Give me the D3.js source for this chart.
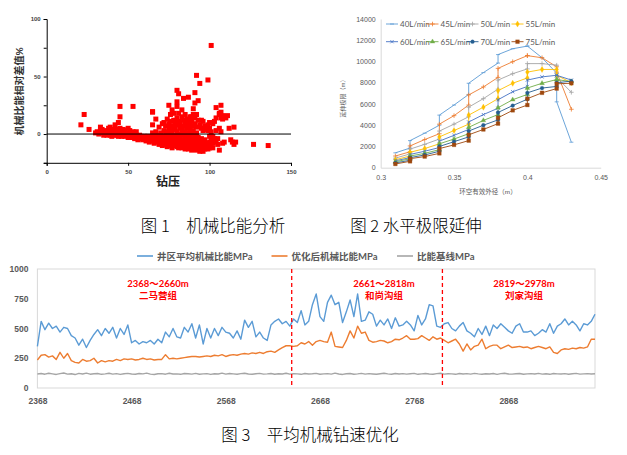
<!DOCTYPE html>
<html>
<head>
<meta charset="utf-8">
<script src="https://cdn.jsdelivr.net/npm/d3@7"></script>
<style>
  body { margin: 0; background: #fff; }
  svg { display: block; font-family: Lato, "Noto Sans CJK SC", sans-serif; }
</style>
</head>
<body>
<svg id="chart" width="627" height="455"></svg>
<script>
// ---- Fig 1: scatter (weight on bit vs. relative MSE) ----
const scatterPts = [
  [101,77],[92,51],[94,44],[99,47],[80,38],[81,35],[84,31],[87,32],[91,36],[93,29],[91,27],[80,28],
  [75,25],[80,24],[77,21],[83,21],[90,22],[45,24],[53,24],[65,19.5],[23,17],[21,8],[26,4],[45,15],
  [104,23],[107,25],[89,15],[92,17],
  [30,1],[31,2],[32,0],[33,3],[34,1],[35,-1],[35,2],[36,0],[37,1],[37,-1],[38,2],[38,0],[39,-1],[39,1],
  [40,0],[40,-2],[41,1],[41,-1],[42,0],[42,2],[43,-1],[43,1],[44,-2],[44,0],[45,-1],[45,2],[46,0],[46,-2],
  [47,1],[47,-1],[48,-2],[48,0],[49,-1],[49,1],[50,-3],[50,0],[51,-1],[51,-2],[52,0],[52,-3],[53,-1],[53,1],
  [54,-2],[54,-4],[55,-1],[55,-3],[56,-5],[56,-2],[57,-3],[57,-1],[58,-4],[58,-2],[59,-5],[59,-3],[60,-2],
  [60,-4],[61,-6],[61,-3],[62,-5],[62,-2],[63,-4],[63,-7],[64,-3],[64,-5],
  [33,6],[34,4],[36,3],[38,5],[39,6],[42,8],[43,4],[44,10],[45,5],[46,3],[47,4],[48,3],[50,5],[51,3],
  [53,2],[55,2],[40,3],[41,4],
  [65,-6],[65,-2],[65,1],[66,-4],[66,-8],[66,0],[67,-5],[67,-3],[67,2],[68,-7],[68,-4],[68,-1],[69,-6],
  [69,-9],[69,-2],[70,-5],[70,-8],[70,-3],[70,1],[71,-7],[71,-4],[71,-10],[72,-6],[72,-2],[72,3],[73,-9],
  [73,-5],[73,-1],[74,-7],[74,-11],[74,-3],[74,2],[75,-8],[75,-5],[75,0],[75,5],[76,-10],[76,-6],[76,-2],
  [76,3],[77,-9],[77,-4],[77,-12],[77,1],[78,-7],[78,-3],[78,-10],[78,6],[79,-8],[79,-5],[79,-1],[79,4],
  [80,-11],[80,-6],[80,-3],[80,2],[81,-9],[81,-12],[81,-4],[81,0],[82,-7],[82,-10],[82,-2],[82,5],[83,-8],
  [83,-12],[83,-5],[83,3],[84,-11],[84,-6],[84,-1],[84,7],[85,-9],[85,-13],[85,-4],[85,2],[86,-7],[86,-11],
  [86,-2],[86,5],[87,-10],[87,-13],[87,-5],[87,1],[88,-8],[88,-12],[88,-3],[88,4],[89,-11],[89,-6],[89,-14],
  [89,0],[90,-9],[90,-13],[90,-4],[90,3],[91,-12],[91,-7],[91,-2],[92,-10],[92,-14],[92,-5],[92,1],[93,-13],
  [93,-8],[93,-3],[94,-11],[94,-15],[94,-6],[95,-14],[95,-9],[95,-4],[96,-12],[96,-15],[96,-7],[97,-10],
  [97,-13],[97,-5],[98,-11],[98,-8],[99,-13],[99,-9],[100,-12],[100,-7],[101,-10],[102,-12],[102,-8],[103,-6],
  [65,8],[65,19],[67,13],[69,6],[71,9],[72,10],[73,7],[74,13],[75,9],[76,17],[76,11],[77,7],[78,18],[78,12],
  [79,10],[80,8],[80,14],[81,18],[81,11],[82,9],[83,15],[83,6],[84,12],[85,9],[85,17],[86,6],[86,13],[87,10],
  [88,8],[88,15],[89,11],[89,13],[90,7],[90,17],[91,9],[91,14],[92,6],[93,12],[94,8],[95,12],[95,5],
  [96,11],[96,3],[97,7],[98,4],[99,8],[99,3],[100,5],[100,10],[101,2],[102,9],[103,11],[104,14],[104,3],
  [106,5],[106,17],[107,14],[107,19],[108,16],[108,13],[110,14],[111,16],[112,5],[115,6],[106,18],[107,2],
  [104,-7],[105,-9],[106,-14],[108,-8],[109,-7],[113,-5],[114,-7],[115,-9],[116,-7],[127,-9],[136,-10],
  [103,-4],[101,-3],[100,-2],[105,-4],[102,-2]
];
const scatterXTicks = [0, 50, 100, 150];
const scatterYTicks = [-25, 0, 25, 50, 75, 100];

// ---- Fig 2: horizontal extension limit ----
const annulusOD = [0.31, 0.32, 0.32, 0.33, 0.34, 0.34, 0.35, 0.36, 0.36, 0.37, 0.38, 0.38, 0.39, 0.40, 0.40, 0.41, 0.42, 0.42, 0.43];
const flowLabels = ["40L/min", "45L/min", "50L/min", "55L/min", "60L/min", "65L/min", "70L/min", "75L/min"];
const ext40 = [1400, 1850, 2550, 3250, 4000, 4950, 5900, 6900, 7950, 8950, 9850, 10650, 11200, 11450, 11450, 10350, 8900, 6200, 2400];
const ext45 = [1100, 1500, 2050, 2650, 3200, 4100, 4900, 5900, 6850, 7600, 8500, 9350, 9980, 10550, 10550, 10350, 9500, 9000, 5500];
const ext50 = [900, 1300, 1750, 2200, 2700, 3450, 4100, 4800, 5700, 6500, 7400, 8250, 8850, 9300, 9800, 9800, 9650, 8500, 7100];
const ext55 = [750, 1100, 1450, 1800, 2250, 2900, 3500, 4100, 4950, 5700, 6500, 7250, 7950, 8450, 9000, 9250, 9250, 8700, 8000];
const ext60 = [650, 950, 1250, 1550, 1900, 2500, 3050, 3600, 4300, 5000, 5600, 6400, 7150, 7650, 8250, 8550, 8700, 8700, 8250];
const ext65 = [550, 850, 1100, 1350, 1700, 2250, 2700, 3200, 3800, 4450, 5000, 5650, 6400, 6900, 7500, 7950, 8300, 8300, 8100];
const ext70 = [450, 700, 950, 1200, 1550, 2000, 2450, 2900, 3450, 4000, 4500, 5200, 5850, 6450, 7050, 7500, 7650, 8000, 8150];
const ext75 = [350, 600, 850, 1050, 1350, 1800, 2150, 2550, 3100, 3600, 4150, 4700, 5400, 5900, 6500, 7050, 7450, 7900, 7950];
const odTicks = [0.3, 0.35, 0.4, 0.45];
const extTicks = [0, 2000, 4000, 6000, 8000, 10000, 12000, 14000];

// ---- Fig 3: MSE along depth ----
const depthStart = 2368, depthStep = 4;
const mseArea = [
  350, 560, 490, 545, 500, 520, 470, 510, 500, 440,
  420, 360, 410, 340, 400, 450, 490, 440, 500, 460,
  510, 420, 500, 450, 530, 380, 400, 370, 390, 380,
  400, 370, 410, 380, 470, 430, 500, 430, 420, 510,
  470, 540, 420, 530, 370, 500, 420, 500, 440, 510,
  470, 460, 420, 480, 410, 570, 510, 560, 430, 470,
  420, 400, 530, 560, 580, 540, 560, 520, 580, 550,
  650, 530, 560, 700, 790,
  600, 560, 720, 780, 700, 720, 550, 640, 740, 600,
  790, 560, 570, 640, 620, 520, 570, 530, 580, 500,
  590, 520, 530, 560, 530, 480, 610, 530, 580, 700,
  690, 520, 510, 540, 550, 500, 480, 520, 550, 480,
  460, 430, 500, 450, 520, 440, 530, 500, 540, 510,
  480, 460, 520, 540, 470, 470, 480, 440, 460, 490,
  470, 540, 460, 520, 540, 580, 530, 560, 530, 480,
  540, 530, 560, 620
];
const mseOpt = [
  235, 275, 280, 260, 270, 240, 300, 250, 290, 230,
  215, 210, 240, 225, 230, 250, 210, 230, 220, 230,
  225, 240, 230, 245, 240, 245, 235, 240, 250, 240,
  245, 235, 240, 240, 280, 245, 250, 245, 250, 255,
  260, 265, 265, 260, 265, 270, 265, 275, 270, 280,
  265, 275, 280, 275, 285, 290, 285, 295, 290, 300,
  290, 305, 310, 300, 320, 340, 355, 355, 350, 355,
  380, 370, 390, 360, 390,
  400, 390, 385, 470, 350, 345, 340, 400, 480, 420,
  520, 460, 470, 400, 385, 390, 400, 395, 380, 390,
  410, 405, 420, 440, 410, 410, 415, 440, 420, 400,
  430, 410, 420, 400, 380, 395, 410, 370, 310, 370,
  320, 350, 360, 410, 330, 350, 360, 360, 330, 345,
  360, 340, 345, 350, 340, 345, 330, 340, 350, 340,
  330, 345, 300, 290, 320, 330, 325, 335, 330, 340,
  335, 345, 410, 410
];
const mseBase = [
  118,122,116,124,119,114,121,126,117,120,
  113,123,118,125,116,120,122,115,119,124,
  117,121,114,120,123,118,116,122,119,125,
  117,113,120,121,116,124,118,119,115,122,
  120,117,123,116,119,121,114,120,118,125,
  117,122,119,116,121,124,118,115,120,123,
  117,119,122,116,120,118,124,117,121,119,
  115,122,118,120,123,116,119,121,117,125,
  118,114,120,122,116,119,123,117,121,118,
  115,120,124,119,116,122,118,121,117,120,
  123,115,119,122,118,116,121,124,117,120,
  119,115,122,118,121,117,123,119,116,120,
  118,122,115,121,124,118,117,120,122,116,
  119,121,118,123,117,120,115,122,119,118,
  121,116,120,123,117,119,121,118,120
];
const mseNames = ["井区平均机械比能MPa", "优化后机械比能MPa", "比能基线MPa"];
const depthTicks = [2368, 2468, 2568, 2668, 2768, 2868];
const mseTicks = [0, 250, 500, 750, 1000];
const formationBounds = [2638, 2798];
const formationRange = ["2368～2660m", "2661～2818m", "2819～2978m"];
const formationName = ["二马营组", "和尚沟组", "刘家沟组"];
const captions = ["图 1　机械比能分析", "图 2 水平极限延伸", "图 3　平均机械钻速优化"];

const svg = d3.select("#chart");
svg.append("rect").attr("width", 627).attr("height", 455).attr("fill", "#fff");

// ================= Fig 1 =================
const x1 = d3.scaleLinear([0, 150], [46.7, 291]);
const y1 = d3.scaleLinear([-25, 100], [162.8, 19]);
const g1 = svg.append("g");

g1.append("g")
    .attr("transform", `translate(${x1(0)},0)`)
    .call(d3.axisLeft(y1).tickValues(scatterYTicks).tickSize(3)
        .tickFormat(d => [0, 50, 100].includes(d) ? d : ""))
    .call(g => g.selectAll("text").attr("font-size", 6).attr("font-weight", "bold")
        .attr("fill", "#444").attr("font-family", "Arial, sans-serif"));
g1.append("g")
    .attr("transform", `translate(0,${y1(-25)})`)
    .call(d3.axisBottom(x1).tickValues(scatterXTicks).tickSize(3).tickPadding(4))
    .call(g => g.selectAll("text").attr("font-size", 6).attr("font-weight", "bold")
        .attr("fill", "#444").attr("font-family", "Arial, sans-serif"));
g1.selectAll(".domain, .tick line").attr("stroke", "#000");

g1.selectAll("rect.pt")
    .data(scatterPts)
    .enter()
    .append("rect")
    .attr("class", "pt")
    .attr("x", d => x1(d[0]) - 2.5)
    .attr("y", d => y1(d[1]) - 2.5)
    .attr("width", 5)
    .attr("height", 5)
    .attr("fill", "#ff0000");

g1.append("line")
    .attr("x1", x1(0)).attr("x2", x1(150))
    .attr("y1", y1(0)).attr("y2", y1(0))
    .attr("stroke", "#000").attr("stroke-width", 1);

g1.append("text")
    .attr("transform", `translate(23,${y1(37)}) rotate(-90)`)
    .attr("text-anchor", "middle")
    .attr("font-size", 10).attr("font-weight", "bold").attr("fill", "#333")
    .text("机械比能相对差值%");
g1.append("text")
    .attr("x", 168).attr("y", 186)
    .attr("text-anchor", "middle")
    .attr("font-size", 12).attr("font-weight", "bold").attr("fill", "#222")
    .text("钻压");

// ================= Fig 2 =================
const x2 = d3.scaleLinear([0.3, 0.45], [380.7, 600.7]);
const y2 = d3.scaleLinear([0, 14000], [167.7, 19]);
const g2 = svg.append("g");

g2.append("g")
    .attr("transform", `translate(${x2(0.3)},0)`)
    .call(d3.axisLeft(y2).tickValues(extTicks).tickSize(0).tickPadding(5).tickFormat(d3.format("d")))
    .call(g => g.select(".domain").attr("stroke", "#d9d9d9"))
    .call(g => g.selectAll("text").attr("font-size", 7).attr("fill", "#595959"));
g2.append("g")
    .attr("transform", `translate(0,${y2(0)})`)
    .call(d3.axisBottom(x2).tickValues(odTicks).tickSize(0).tickPadding(7)
        .tickFormat(d => String(d)))
    .call(g => g.select(".domain").attr("stroke", "#d9d9d9"))
    .call(g => g.selectAll("text").attr("font-size", 7).attr("fill", "#595959"));

g2.append("text")
    .attr("transform", "translate(345,97) rotate(-90)")
    .attr("text-anchor", "middle")
    .attr("font-size", 6).attr("fill", "#595959")
    .text("延伸极限（m）");
g2.append("text")
    .attr("x", 488).attr("y", 194)
    .attr("text-anchor", "middle")
    .attr("font-size", 6.5).attr("fill", "#595959")
    .text("环空有效外径（m）");

const extSeries = [ext40, ext45, ext50, ext55, ext60, ext65, ext70, ext75];
const extColors = ["#5b9bd5", "#ed7d31", "#a5a5a5", "#ffc000", "#4472c4", "#70ad47", "#255e91", "#9e480e"];
const extMarks = ["dash", "plus", "plus", "diamond", "times", "triangle", "circle", "square"];

function markerPath(type) {
    if (type === "dash") return "M-2,0H2";
    if (type === "plus") return d3.symbol(d3.symbolPlus, 8)();
    if (type === "times") return d3.symbol(d3.symbolTimes, 8)();
    if (type === "diamond") return d3.symbol(d3.symbolDiamond, 11)();
    if (type === "triangle") return d3.symbol(d3.symbolTriangle, 10)();
    if (type === "circle") return d3.symbol(d3.symbolCircle, 11)();
    return d3.symbol(d3.symbolSquare, 14)();
}
function isStroke(type) {
    return type === "dash" || type === "plus" || type === "times";
}

const line2 = d3.line().x(d => x2(d[0])).y(d => y2(d[1]));
extSeries.forEach((vals, i) => {
    const pts = annulusOD.map((x, j) => [x, vals[j]]);
    g2.append("path")
        .attr("d", line2(pts))
        .attr("fill", "none")
        .attr("stroke", extColors[i])
        .attr("stroke-width", 0.9);
    g2.selectAll(null)
        .data(pts)
        .enter()
        .append("path")
        .attr("transform", d => `translate(${x2(d[0])},${y2(d[1])})`)
        .attr("d", markerPath(extMarks[i]))
        .attr("fill", isStroke(extMarks[i]) ? "none" : extColors[i])
        .attr("stroke", extColors[i])
        .attr("stroke-width", isStroke(extMarks[i]) ? 0.8 : 0.3);
});

// legend, two rows of four
const legX = [386, 426.5, 466.5, 511.5];
const legY = [24, 41.7];
flowLabels.forEach((lab, i) => {
    const lx = legX[i % 4], ly = legY[Math.floor(i / 4)];
    const lg = g2.append("g");
    lg.append("line")
        .attr("x1", lx).attr("x2", lx + 12)
        .attr("y1", ly).attr("y2", ly)
        .attr("stroke", extColors[i]).attr("stroke-width", 0.9);
    lg.append("path")
        .attr("transform", `translate(${lx + 6},${ly})`)
        .attr("d", markerPath(extMarks[i]))
        .attr("fill", isStroke(extMarks[i]) ? "none" : extColors[i])
        .attr("stroke", extColors[i])
        .attr("stroke-width", isStroke(extMarks[i]) ? 0.8 : 0.3);
    lg.append("text")
        .attr("x", lx + 14).attr("y", ly + 3)
        .attr("font-size", 8).attr("fill", "#595959")
        .text(lab);
});

// ================= Fig 3 =================
const depths = d3.range(mseArea.length).map(i => depthStart + i * depthStep);
const x3 = d3.scaleLinear([2368, 2960], [37.4, 595]);
const y3 = d3.scaleLinear([0, 1000], [388, 269]);
const g3 = svg.append("g");

g3.append("rect")
    .attr("x", x3(2368)).attr("y", y3(1000))
    .attr("width", x3(2960) - x3(2368)).attr("height", y3(0) - y3(1000))
    .attr("fill", "none").attr("stroke", "#d9d9d9");

g3.append("g")
    .attr("transform", `translate(${x3(2368)},0)`)
    .call(d3.axisLeft(y3).tickValues(mseTicks).tickSize(0).tickPadding(9).tickFormat(d3.format("d")))
    .call(g => g.select(".domain").remove())
    .call(g => g.selectAll("text").attr("font-size", 8.5).attr("font-weight", "bold").attr("fill", "#595959"));
g3.append("g")
    .attr("transform", `translate(0,${y3(0)})`)
    .call(d3.axisBottom(x3).tickValues(depthTicks).tickSize(0).tickPadding(10).tickFormat(d3.format("d")))
    .call(g => g.select(".domain").remove())
    .call(g => g.selectAll("text").attr("font-size", 8.5).attr("font-weight", "bold").attr("fill", "#595959"));

const mseSeries = [mseArea, mseOpt, mseBase];
const mseColors = ["#5b9bd5", "#ed7d31", "#a5a5a5"];
const line3 = d3.line().x((d, i) => x3(depths[i])).y(d => y3(d));
mseSeries.forEach((vals, i) => {
    g3.append("path")
        .attr("d", line3(vals))
        .attr("fill", "none")
        .attr("stroke", mseColors[i])
        .attr("stroke-width", 1.4)
        .attr("stroke-linejoin", "round");
});

// formation boundaries
formationBounds.forEach(b => {
    g3.append("line")
        .attr("x1", x3(b)).attr("x2", x3(b))
        .attr("y1", y3(1000)).attr("y2", y3(0))
        .attr("stroke", "#ff0000").attr("stroke-width", 1.3)
        .attr("stroke-dasharray", "4,3");
});
const annX = [158, 384, 524];
formationRange.forEach((t, i) => {
    g3.append("text")
        .attr("x", annX[i]).attr("y", 287)
        .attr("text-anchor", "middle")
        .attr("font-size", 9.5).attr("font-weight", "bold").attr("fill", "#ff0000")
        .text(t);
    g3.append("text")
        .attr("x", annX[i]).attr("y", 299)
        .attr("text-anchor", "middle")
        .attr("font-size", 9.5).attr("font-weight", "bold").attr("fill", "#ff0000")
        .text(formationName[i]);
});

// legend
const leg3X = [137, 271.5, 397];
mseNames.forEach((n, i) => {
    g3.append("line")
        .attr("x1", leg3X[i]).attr("x2", leg3X[i] + 16)
        .attr("y1", 256).attr("y2", 256)
        .attr("stroke", mseColors[i]).attr("stroke-width", 1.6);
    g3.append("text")
        .attr("x", leg3X[i] + 20).attr("y", 259.5)
        .attr("font-size", 9.5).attr("font-weight", "bold").attr("fill", "#595959")
        .text(n);
});

// ================= captions =================
const capPos = [[213, 232], [416, 232], [310, 441]];
captions.forEach((c, i) => {
    svg.append("text")
        .attr("x", capPos[i][0]).attr("y", capPos[i][1])
        .attr("text-anchor", "middle")
        .attr("font-family", "'Noto Sans CJK SC', sans-serif")
        .attr("font-weight", 300)
        .attr("font-size", 16.5).attr("fill", "#000")
        .text(c);
});
</script>
</body>
</html>
